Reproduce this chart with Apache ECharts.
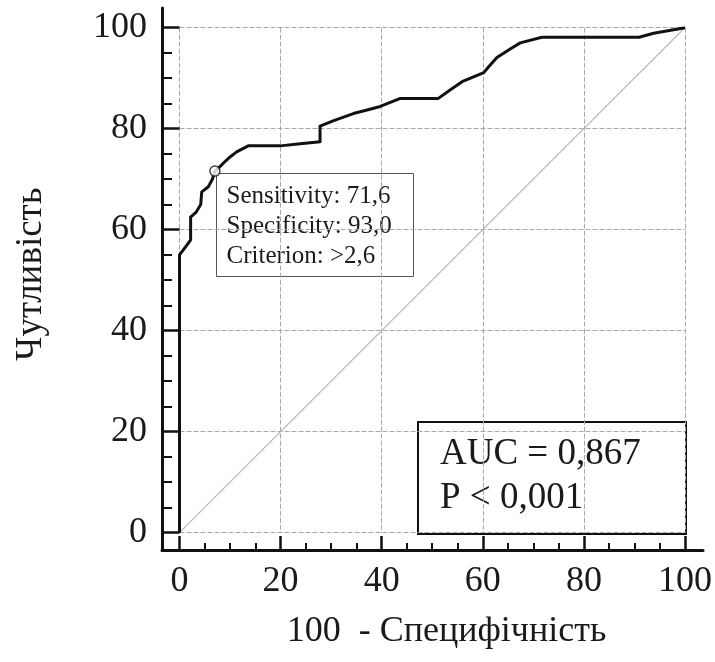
<!DOCTYPE html>
<html>
<head>
<meta charset="utf-8">
<script src="https://cdn.jsdelivr.net/npm/echarts@6/dist/echarts.min.js"></script>
<style>
html,body{margin:0;padding:0;background:#fff;}
#chart{width:715px;height:662px;}
</style>
</head>
<body>
<div id="chart"></div>
<script>
// ROC curve: x = 100 - Specificity, y = Sensitivity
var rocX = [0, 0, 1.5, 2.2, 2.2, 3.3, 4.2, 4.4, 5.7, 6.5, 7.0, 8.0, 9.0, 10.0, 11.3, 13.6, 19.9, 23.9, 27.8, 27.8, 30.5, 34.4, 37.1, 39.7, 43.7, 51.2, 53.6, 55.9, 60.2, 61.2, 62.8, 65.1, 67.4, 71.7, 90.9, 93.8, 100];
var rocY = [0, 55.0, 57.0, 58.0, 62.5, 63.5, 65.0, 67.5, 68.5, 70.0, 71.6, 72.5, 73.5, 74.4, 75.4, 76.6, 76.6, 77.0, 77.4, 80.5, 81.6, 83.0, 83.7, 84.4, 86.0, 86.0, 87.7, 89.3, 91.1, 92.3, 94.1, 95.6, 97.0, 98.1, 98.1, 98.9, 100];
// reference diagonal
var diagX = [0, 100];
var diagY = [0, 100];
// optimal cut-off point
var cutX = [7.0];
var cutY = [71.6];
// tick labels
var ticks = [0, 20, 40, 60, 80, 100];
var xName = '100  - Специфічність';
var yName = 'Чутливість';
var infoLines = ['Sensitivity: 71,6', 'Specificity: 93,0', 'Criterion: >2,6'];
var aucLines = ['AUC = 0,867', 'P < 0,001'];

function zip(a, b) { return a.map(function (v, i) { return [v, b[i]]; }); }

var serif = '"Liberation Serif", "DejaVu Serif", serif';
var chart = echarts.init(document.getElementById('chart'), null, {renderer: 'canvas'});

function fmt(v) { return ticks.indexOf(v) >= 0 ? String(v) : ''; }

var option = {
  backgroundColor: '#ffffff',
  animation: false,
  grid: [
    {left: 162, right: 12, top: 8, bottom: 112, containLabel: false},
    {left: 179.5, right: 30, top: 27.7, bottom: 129.3, containLabel: false}
  ],
  xAxis: [
    {
      gridIndex: 0, type: 'value', min: -3.46, max: 103.56, splitNumber: 5,
      axisLine: {show: true, onZero: false, lineStyle: {color: '#111', width: 3}},
      axisTick: {show: true, inside: true, length: 14, customValues: ticks, lineStyle: {color: '#111', width: 2.5}},
      minorTick: {show: true, splitNumber: 4, length: 7, lineStyle: {color: '#111', width: 2}},
      axisLabel: {margin: 14, fontFamily: serif, fontSize: 36, color: '#1a1a1a', customValues: ticks, formatter: fmt},
      splitLine: {show: false},
      name: xName, nameLocation: 'middle', nameGap: 64,
      nameTextStyle: {fontFamily: serif, fontSize: 36, color: '#1a1a1a', padding: [0, 0, 0, 28]}
    },
    {
      gridIndex: 1, type: 'value', min: 0, max: 100, interval: 20,
      axisLine: {show: false, onZero: false}, axisTick: {show: false}, axisLabel: {show: false},
      splitLine: {show: true, lineStyle: {color: '#a8a8a8', width: 1, type: [5, 2]}}
    }
  ],
  yAxis: [
    {
      gridIndex: 0, type: 'value', min: -3.43, max: 103.9, splitNumber: 5,
      axisLine: {show: true, onZero: false, lineStyle: {color: '#111', width: 3}},
      axisTick: {show: true, inside: true, length: 17.5, customValues: ticks, lineStyle: {color: '#111', width: 2.5}},
      minorTick: {show: true, splitNumber: 4, length: 10, lineStyle: {color: '#111', width: 2}},
      axisLabel: {margin: 15, fontFamily: serif, fontSize: 36, color: '#1a1a1a', customValues: ticks, formatter: fmt},
      splitLine: {show: false},
      name: yName, nameLocation: 'middle', nameGap: 112, nameRotate: 90,
      nameTextStyle: {fontFamily: serif, fontSize: 37, color: '#1a1a1a', padding: [0, 0, 0, 10]}
    },
    {
      gridIndex: 1, type: 'value', min: 0, max: 100, interval: 20,
      axisLine: {show: false, onZero: false}, axisTick: {show: false}, axisLabel: {show: false},
      splitLine: {show: true, lineStyle: {color: '#a8a8a8', width: 1, type: [5, 2]}}
    }
  ],
  series: [
    {
      type: 'line', xAxisIndex: 1, yAxisIndex: 1,
      data: zip(diagX, diagY), showSymbol: false, silent: true,
      lineStyle: {color: '#b4b4b4', width: 1.2}, z: 2
    },
    {
      type: 'line', xAxisIndex: 1, yAxisIndex: 1,
      data: zip(rocX, rocY), showSymbol: false, silent: true,
      lineStyle: {color: '#111', width: 3, join: 'round'}, z: 3
    },
    {
      type: 'scatter', xAxisIndex: 1, yAxisIndex: 1,
      data: zip(cutX, cutY), symbol: 'circle', symbolSize: 10,
      itemStyle: {color: '#ffffff', borderColor: '#111', borderWidth: 1.5}, z: 4
    }
  ],
  graphic: [
    {
      type: 'group', left: 216, top: 173, z: 10,
      children: [
        {type: 'rect', shape: {x: 0, y: 0, width: 197, height: 103},
         style: {fill: '#ffffff', stroke: '#555', lineWidth: 1}},
        {type: 'text', x: 10, y: 8,
         style: {text: infoLines.join('\n'), font: '25px ' + serif, fill: '#1a1a1a', lineHeight: 30}}
      ]
    },
    {
      type: 'group', left: 417, top: 421, z: 10,
      children: [
        {type: 'rect', shape: {x: 0, y: 0, width: 268, height: 112},
         style: {fill: '#ffffff', stroke: '#111', lineWidth: 2}},
        {type: 'text', x: 22, y: 10,
         style: {text: aucLines.join('\n'), font: '37px ' + serif, fill: '#1a1a1a', lineHeight: 44}}
      ]
    }
  ]
};
chart.setOption(option);
</script>
</body>
</html>
